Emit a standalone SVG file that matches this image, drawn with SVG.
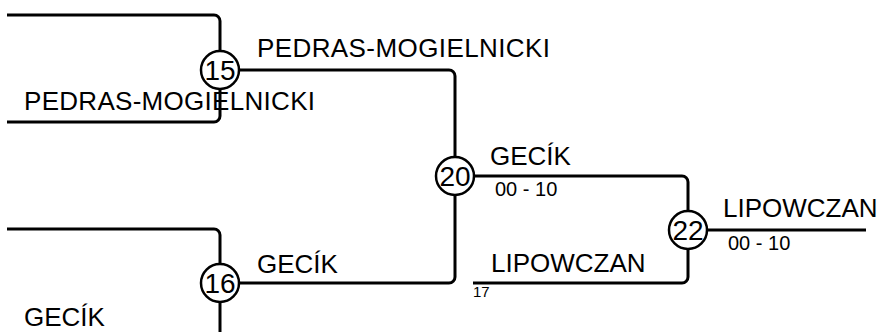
<svg xmlns="http://www.w3.org/2000/svg" width="885" height="332" viewBox="0 0 885 332">
<style>
.ln{fill:none;stroke:#000;stroke-width:3;stroke-linecap:butt}
.nd{fill:#fff;stroke:#000;stroke-width:2.5}
.num{font-family:"Liberation Sans",Arial,sans-serif;font-size:28px;fill:#000;text-anchor:middle}
.lb{font-family:"Liberation Sans",Arial,sans-serif;font-size:26px;fill:#000}
.sc{font-family:"Liberation Sans",Arial,sans-serif;font-size:20px;fill:#000}
.sm{font-family:"Liberation Sans",Arial,sans-serif;font-size:15px;fill:#000}
</style>
<g id="connectors">
<path class="ln" d="M7,15 H214 A6,6 0 0 1 220,21 V51"/>
<path class="ln" d="M220,89 V116 A6,6 0 0 1 214,122 H7"/>
<path class="ln" d="M239,70 H449 A6,6 0 0 1 455,76 V157"/>
<path class="ln" d="M455,195 V277 A6,6 0 0 1 449,283 H239"/>
<path class="ln" d="M7,229 H214 A6,6 0 0 1 220,235 V264"/>
<path class="ln" d="M220,302 V332"/>
<path class="ln" d="M474,176 H682 A6,6 0 0 1 688,182 V211"/>
<path class="ln" d="M688,249 V277 A6,6 0 0 1 682,283 H473"/>
<path class="ln" d="M707,230 H866"/>
</g>
<g id="labels">
<text class="lb" x="257" y="57" textLength="293" lengthAdjust="spacing">PEDRAS-MOGIELNICKI</text>
<text class="lb" x="24" y="110" textLength="291" lengthAdjust="spacing">PEDRAS-MOGIELNICKI</text>
<text class="lb" x="490" y="165">GECÍK</text>
<text class="sc" x="495" y="196">00 - 10</text>
<text class="lb" x="723" y="217">LIPOWCZAN</text>
<text class="sc" x="728" y="250">00 - 10</text>
<text class="lb" x="491" y="272">LIPOWCZAN</text>
<text class="sm" x="473" y="297">17</text>
<text class="lb" x="257" y="273">GECÍK</text>
<text class="lb" x="24" y="326">GECÍK</text>
</g>
<g id="node-15"><circle class="nd" cx="220" cy="70" r="19"/><text class="num" x="220" y="80">15</text></g>
<g id="node-16"><circle class="nd" cx="220" cy="283" r="19"/><text class="num" x="220" y="293">16</text></g>
<g id="node-20"><circle class="nd" cx="455" cy="176" r="19"/><text class="num" x="455" y="186">20</text></g>
<g id="node-22"><circle class="nd" cx="688" cy="230" r="19"/><text class="num" x="688" y="240">22</text></g>
</svg>
